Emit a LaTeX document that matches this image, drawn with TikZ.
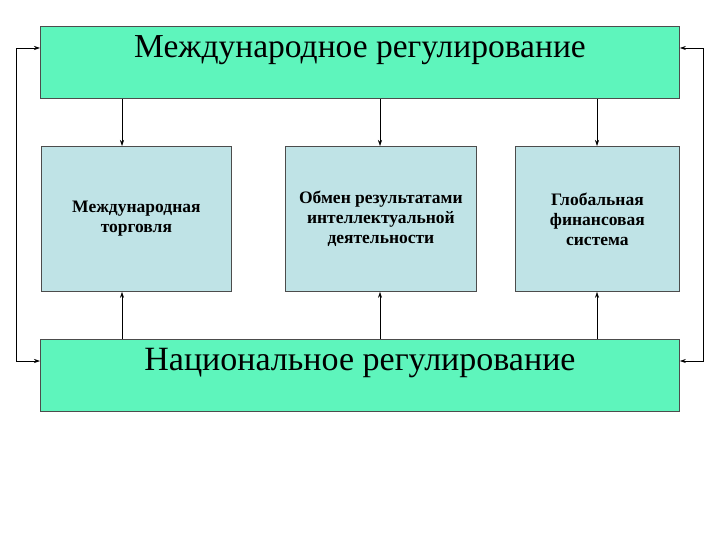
\documentclass[tikz,border=0pt]{standalone}
\usepackage{fontspec}
\setmainfont{Liberation Serif}
\usetikzlibrary{arrows.meta}
\definecolor{topc}{HTML}{5EF5BC}
\definecolor{midc}{HTML}{BFE3E6}
\begin{document}
\begin{tikzpicture}[x=1pt,y=-1pt,
  big/.style={draw=black!70,fill=topc,line width=0.8pt},
  mid/.style={draw=black!70,fill=midc,line width=0.8pt,align=center,font=\bfseries\fontsize{17.5}{20}\selectfont},
  arr/.style={-{Stealth[length=6pt,width=4pt]},line width=0.6pt}]
\useasboundingbox (0,0) rectangle (720,540);
\node[big,minimum width=639pt,minimum height=72pt,anchor=north west,inner sep=0] (top) at (40,26) {};
\node[font=\fontsize{33.5}{38}\selectfont] (toptext) at (360,50) {Международное регулирование};
\node[big,minimum width=639pt,minimum height=72pt,anchor=north west,inner sep=0] (bot) at (40,339) {};
\node[font=\fontsize{34}{40}\selectfont] (bottext) at (360,363) {Национальное регулирование};
\node[mid,minimum width=190pt,minimum height=145pt,anchor=north west,inner sep=0] (m1) at (41,146) {Международная\\торговля};
\node[mid,minimum width=191pt,minimum height=145pt,anchor=north west,inner sep=0] (m2) at (285,146) {Обмен результатами\\интеллектуальной\\деятельности};
\node[mid,minimum width=164pt,minimum height=145pt,anchor=north west,inner sep=0] (m3) at (515,146) {Глобальная\\финансовая\\система};
\draw[arr] (top.south -| 122,0) -- (m1.north -| 122,0);
\draw[arr] (top.south -| 380,0) -- (m2.north -| 380,0);
\draw[arr] (top.south -| 597,0) -- (m3.north -| 597,0);
\draw[arr] (bot.north -| 122,0) -- (m1.south -| 122,0);
\draw[arr] (bot.north -| 380,0) -- (m2.south -| 380,0);
\draw[arr] (bot.north -| 597,0) -- (m3.south -| 597,0);
\coordinate (l1) at (16,48); \coordinate (l2) at (16,361);
\coordinate (r1) at (703,48); \coordinate (r2) at (703,361);
\draw[arr,{Stealth[length=6pt,width=4pt]}-{Stealth[length=6pt,width=4pt]}] (top.west |- l1) -- (l1) -- (l2) -- (bot.west |- l2);
\draw[arr,{Stealth[length=6pt,width=4pt]}-{Stealth[length=6pt,width=4pt]}] (top.east |- r1) -- (r1) -- (r2) -- (bot.east |- r2);
\end{tikzpicture}
\end{document}
